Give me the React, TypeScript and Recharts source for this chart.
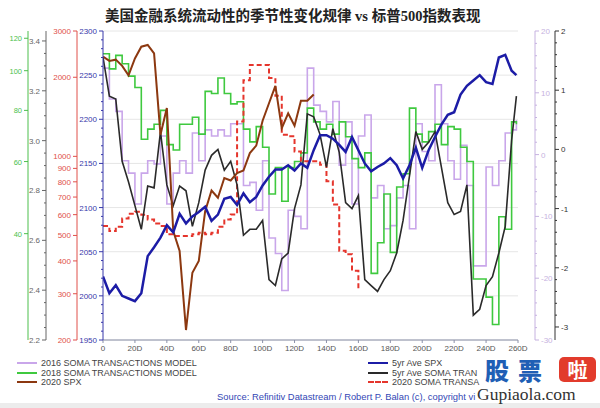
import { LineChart, Line, XAxis, YAxis, CartesianGrid } from "recharts";

const days = [
  0, 4, 8, 12, 16, 20, 24, 28, 32, 36, 40, 44, 48, 52, 56, 60, 64, 68, 72, 76, 80, 84, 88, 92, 96, 100,
  104, 108, 112, 116, 120, 124, 128, 132, 136, 140, 144, 148, 152, 156, 160, 164, 168, 172, 176, 180,
  184, 188, 192, 196, 200, 204, 208, 212, 216, 220, 224, 228, 232, 236, 240, 244, 248, 252, 256, 259,
];

// 5yr Ave SPX (blue axis, left)
const spx5yr = [
  2022, 2003, 2012, 2000, 1997, 1994, 2003, 2045, 2055, 2066,
  2080, 2072, 2093, 2082, 2090, 2095, 2101, 2085, 2092, 2110,
  2112, 2103, 2116, 2106, 2112, 2125, 2135, 2143, 2143, 2148,
  2142, 2150, 2145, 2165, 2182, 2182, 2178, 2171, 2163, 2180,
  2165, 2150, 2141, 2146, 2150, 2156, 2148, 2133, 2148, 2168,
  2145, 2165, 2180, 2194, 2205, 2208, 2228, 2238, 2244, 2250,
  2242, 2240, 2270, 2273, 2255, 2250,
];

// 5yr Ave SOMA transactions (black axis, right)
const soma5yr = [
  1.56, 0.9, 0.85, -0.2, -0.55, -0.95, -1.35, -0.62, -0.65, 0.3,
  -0.6, -0.95, -0.62, -0.7, -1.3, -0.9, -0.35, -0.1, 0.0, -0.35,
  -0.2, -0.6, -1.45, -1.35, -1.35, -1.2, -2.2, -2.3, -1.85, -1.75,
  -1.0, -0.6, 0.6, 0.55, 0.25, -0.3, 0.35, -0.05, -0.9, -1.0,
  -0.78, -2.2, -2.3, -2.4, -2.2, -2.05, -1.75, -1.2, -0.45, 0.3,
  0.0, 0.12, 0.3, -0.3, -0.9, -1.1, -1.05, -0.6, -2.8, -2.7,
  -2.3, -2.15, -1.75, -1.3, 0.15, 0.9,
];

// 2018 SOMA transactions model (green axis, left, log)
const soma2018 = [
  110, 101, 109, 104, 97, 91, 68, 72, 74, 80,
  66, 64, 74, 74, 77, 70, 89, 88, 96, 88,
  83, 84, 72, 67, 73, 65, 50, 58, 48, 58,
  60, 63, 81, 75, 72, 74, 70, 75, 69, 61,
  58, 63, 32, 38, 50, 36, 52, 56, 81, 70,
  67, 71, 74, 66, 73, 72, 65, 60, 31, 31,
  28, 24, 44, 41, 75, 74,
];

// 2016 SOMA transactions model (lavender axis, right)
const soma2016 = [
  14, 9, 7, -1, -3, -8, -3, -1, -1.5, 3,
  -8, -3, -1, -3, 3.5, -1, 4, 3, 4, 3,
  5, 5, -5, -4.5, -9, -1, -13.5, -16, -22, -9,
  -10, -12, 14, 8, 7, 5.3, 8.6, -1.7, 5.3, -8,
  3, 6.4, -7, -5, -12, -11.5, -7, -5, -12, 5,
  0.5, -1, 11.3, 5, -1, -4, 1.5, -5, -18, -18,
  -2, -5, -1, 3.5, 4, 5.6,
];

// 2020 SPX (gray axis, thousands)
const spx2020 = [
  3337, 3320, 3325, 3300, 3262, 3330, 3377, 3384, 3350, 3024,
  3131, 2637, 2557, 2240, 2470, 2517, 2717, 2800, 2771, 2850,
  2840, 2870, 2880, 2950, 2980, 3080, 3150, 3220, 3050, 3110,
  3060, 3160, 3160, 3185, null, null, null, null, null, null,
  null, null, null, null, null, null, null, null, null, null,
  null, null, null, null, null, null, null, null, null, null,
  null, null, null, null, null, null,
];

// 2020 SOMA transactions (red axis, log)
const soma2020 = [
  543, 520, 540, 580, 605, 615, 600, 575, 555, 543,
  505, 498, 498, 498, 505, 512, 505, 512, 540, 575,
  601, 1358, 1950, 2229, 2229, 2229, 1985, 1700, 1209, 1192,
  1044, 957, 957, 957, 930, 804, 656, 437, 424, 367,
  308, null, null, null, null, null, null, null, null, null,
  null, null, null, null, null, null, null, null, null, null,
  null, null, null, null, null, null,
];

const xTicks = [0, 20, 40, 60, 80, 100, 120, 140, 160, 180, 200, 220, 240, 260];
const blueTicks = [1950, 2000, 2050, 2100, 2150, 2200, 2250, 2300];
const redTicks = [200, 300, 400, 500, 600, 700, 800, 900, 1000, 2000, 3000];
const grayTicks = [2200, 2400, 2600, 2800, 3000, 3200, 3400];
const greenTicks = [40, 60, 80, 100, 120];
const lavTicks = [-30, -20, -10, 0, 10, 20];
const blackTicks = [-3, -2, -1, 0, 1, 2];

const data = days.map((day, i) => ({
  day,
  spx5yr: spx5yr[i],
  soma5yr: soma5yr[i],
  soma2018: soma2018[i],
  soma2016: soma2016[i],
  spx2020: spx2020[i],
  soma2020: soma2020[i],
}));

const C = {
  blue: "#1c1ca6",
  black: "#2a2a2a",
  green: "#3fc93f",
  lav: "#c9a6ea",
  brown: "#8c3810",
  red: "#e5352c",
};
const AX = {
  green: "#4cbf4c",
  gray: "#666666",
  red: "#e0504a",
  blue: "#3838aa",
  lav: "#c6b2e0",
  black: "#333333",
};

const FONT = "'Liberation Sans', Arial, sans-serif";
const TS = 4;
const TM = 2;

function withMinor(major: number[], step: number) {
  const out: number[] = [];
  const end = major[major.length - 1];
  for (let v = major[0]; v <= end + 1e-9; v += step) out.push(+v.toFixed(4));
  return out;
}

function axisTick(side: "left" | "right", color: string, majors: number[], fmt: (v: number) => string, size = 8) {
  return (props: any) => {
    const { x, y, payload } = props;
    const v = payload.value;
    const major = majors.some((m) => Math.abs(m - v) < 1e-6);
    const ax = side === "left" ? x + TM + TS : x - TM - TS;
    const len = major ? 4 : 2;
    return (
      <g>
        <line x1={ax} y1={y} x2={side === "left" ? ax - len : ax + len} y2={y} stroke={color} strokeWidth={1} />
        {major && (
          <text x={x} y={y} dy={3} textAnchor={side === "left" ? "end" : "start"} fontSize={size} fill={color} fontFamily={FONT}>
            {fmt(v)}
          </text>
        )}
      </g>
    );
  };
}

const legendLeft = [
  { name: "2016 SOMA TRANSACTIONS MODEL", color: C.lav, dash: false },
  { name: "2018 SOMA TRANSACTIONS MODEL", color: C.green, dash: false },
  { name: "2020 SPX", color: C.brown, dash: false },
];
const legendRight = [
  { name: "5yr Ave SPX", color: C.blue, dash: false },
  { name: "5yr Ave SOMA TRAN", color: C.black, dash: false },
  { name: "2020 SOMA TRANSA", color: C.red, dash: true },
];
const rowY = [363, 372.7, 382.3];

function LegendCol({ items, x }: { items: typeof legendLeft; x: number }) {
  return (
    <>
      {items.map((it, i) => (
        <div
          key={it.name}
          style={{ position: "absolute", left: x, top: rowY[i] - 6, height: 12, display: "flex", alignItems: "center", whiteSpace: "nowrap" }}
        >
          <span style={{ display: "inline-block", width: 20, borderTop: `2px ${it.dash ? "dashed" : "solid"} ${it.color}`, marginRight: 4 }} />
          <span style={{ fontFamily: FONT, fontSize: 9, color: "#444", lineHeight: "12px" }}>{it.name}</span>
        </div>
      ))}
    </>
  );
}

export default function App() {
  return (
    <div style={{ position: "absolute", left: 0, top: 0, width: 600, height: 408, background: "#fff", overflow: "hidden" }}>
      <div
        style={{
          position: "absolute",
          left: 105,
          top: 4,
          fontFamily: "'Liberation Serif', 'Noto Sans CJK SC', serif",
          fontWeight: 700,
          fontSize: 14.5,
          color: "#222",
          whiteSpace: "nowrap",
        }}
      >
        美国金融系统流动性的季节性变化规律 vs 标普500指数表现
      </div>

      <LineChart width={600} height={408} data={data} margin={{ top: 31, right: 0, bottom: 54, left: 0 }}>
        <CartesianGrid yAxisId="a_blue" vertical={false} horizontalValues={blueTicks} stroke="#e6e6e6" />
        <XAxis
          dataKey="day"
          type="number"
          domain={[0, 260]}
          ticks={xTicks}
          interval={0}
          allowDataOverflow
          tickFormatter={(v: number) => (v === 0 ? "0" : `${v}D`)}
          tick={{ fontSize: 8, fill: "#555", fontFamily: FONT }}
          tickSize={3}
          tickMargin={2}
          height={14}
          axisLine={{ stroke: "#8a90a8" }}
          tickLine={{ stroke: "#8a90a8" }}
        />
        <YAxis
          yAxisId="a_blue"
          width={26}
          type="number"
          domain={[1950, 2300]}
          allowDataOverflow
          ticks={withMinor(blueTicks, 10)}
          interval={0}
          tickSize={TS}
          tickMargin={TM}
          tickLine={false}
          axisLine={{ stroke: AX.blue }}
          tick={axisTick("left", AX.blue, blueTicks, (v) => String(v))}
        />
        <YAxis
          yAxisId="b_red"
          width={31}
          type="number"
          scale="log"
          domain={[200, 3000]}
          allowDataOverflow
          ticks={redTicks}
          interval={0}
          tickSize={TS}
          tickMargin={TM}
          tickLine={false}
          axisLine={{ stroke: AX.red }}
          tick={axisTick("left", AX.red, redTicks, (v) => String(v))}
        />
        <YAxis
          yAxisId="c_gray"
          width={18}
          type="number"
          domain={[2200, 3440]}
          allowDataOverflow
          ticks={withMinor(grayTicks, 50)}
          interval={0}
          tickSize={TS}
          tickMargin={TM}
          tickLine={false}
          axisLine={{ stroke: AX.gray }}
          tick={axisTick("left", AX.gray, grayTicks, (v) => (v / 1000).toFixed(1))}
        />
        <YAxis
          yAxisId="d_green"
          width={28}
          type="number"
          scale="log"
          domain={[22, 125]}
          allowDataOverflow
          ticks={greenTicks}
          interval={0}
          tickSize={TS}
          tickMargin={TM}
          tickLine={false}
          axisLine={{ stroke: AX.green }}
          tick={axisTick("left", AX.green, greenTicks, (v) => String(v), 7.5)}
        />
        <YAxis yAxisId="a_spacer" orientation="right" width={17} axisLine={false} tickLine={false} tick={false} />
        <YAxis
          yAxisId="b_lav"
          orientation="right"
          width={20}
          type="number"
          domain={[-30, 20]}
          allowDataOverflow
          ticks={withMinor(lavTicks, 2)}
          interval={0}
          tickSize={TS}
          tickMargin={TM}
          tickLine={false}
          axisLine={{ stroke: AX.lav }}
          tick={axisTick("right", AX.lav, lavTicks, (v) => String(v))}
        />
        <YAxis
          yAxisId="c_black"
          orientation="right"
          width={45}
          type="number"
          domain={[-3.22, 2]}
          allowDataOverflow
          ticks={withMinor(blackTicks, 0.2)}
          interval={0}
          tickSize={TS}
          tickMargin={TM}
          tickLine={false}
          axisLine={{ stroke: AX.black }}
          tick={axisTick("right", AX.black, blackTicks, (v) => String(v))}
        />

        <Line yAxisId="b_lav" dataKey="soma2016" type="stepAfter" stroke={C.lav} strokeWidth={1.6} dot={false} isAnimationActive={false} />
        <Line yAxisId="d_green" dataKey="soma2018" type="stepAfter" stroke={C.green} strokeWidth={1.6} dot={false} isAnimationActive={false} />
        <Line yAxisId="b_red" dataKey="soma2020" type="stepAfter" stroke={C.red} strokeWidth={2} strokeDasharray="5 3" dot={false} isAnimationActive={false} />
        <Line yAxisId="c_black" dataKey="soma5yr" type="linear" stroke={C.black} strokeWidth={1.6} dot={false} isAnimationActive={false} />
        <Line yAxisId="c_gray" dataKey="spx2020" type="linear" stroke={C.brown} strokeWidth={2} dot={false} isAnimationActive={false} />
        <Line yAxisId="a_blue" dataKey="spx5yr" type="linear" stroke={C.blue} strokeWidth={2.5} dot={false} isAnimationActive={false} />
      </LineChart>

      <LegendCol items={legendLeft} x={17} />
      <LegendCol items={legendRight} x={368} />

      <div style={{ position: "absolute", left: 217, top: 391, fontFamily: FONT, fontSize: 9.4, color: "#3447b5", whiteSpace: "nowrap", lineHeight: "12px" }}>
        Source: Refinitiv Datastream / Robert P. Balan (c), copyright vi
      </div>
      <div style={{ position: "absolute", left: 0, top: 403, width: 600, height: 5, background: "#ececec" }} />

      {/* watermark */}
      <div
        style={{
          position: "absolute",
          left: 480,
          top: 357,
          width: 78,
          height: 25,
          background: "#fff",
          fontFamily: "'Noto Sans CJK SC', sans-serif",
          fontWeight: 900,
          fontSize: 24,
          lineHeight: "25px",
          color: "#1f5fb5",
          letterSpacing: 9,
          paddingLeft: 5,
          boxSizing: "border-box",
          whiteSpace: "nowrap",
        }}
      >
        股票
      </div>
      <div
        style={{
          position: "absolute",
          left: 559,
          top: 357,
          width: 37,
          height: 25,
          background: "#e23b2c",
          borderRadius: 5,
          color: "#fff",
          fontFamily: "'Noto Sans CJK SC', sans-serif",
          fontWeight: 700,
          fontSize: 20,
          lineHeight: "25px",
          textAlign: "center",
        }}
      >
        啦
      </div>
      <div
        style={{
          position: "absolute",
          left: 477,
          top: 386,
          width: 123,
          height: 17,
          background: "#fff",
          fontFamily: "'Liberation Serif', serif",
          fontSize: 17.5,
          lineHeight: "17px",
          color: "#333",
          whiteSpace: "nowrap",
        }}
      >
        Gupiaola.com
      </div>
    </div>
  );
}
